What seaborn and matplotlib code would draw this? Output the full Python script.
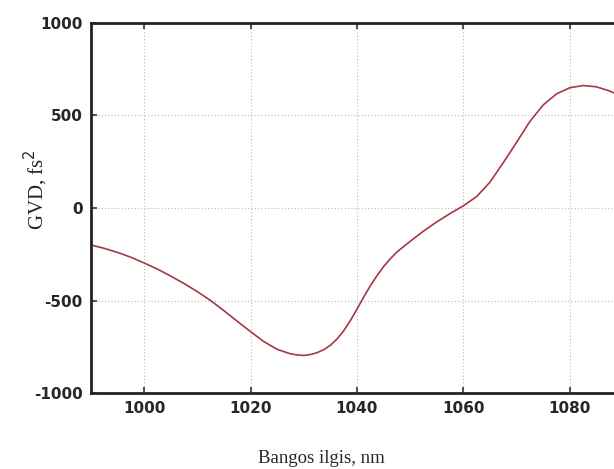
import matplotlib
matplotlib.use("Agg")
import matplotlib.pyplot as plt
import pandas as pd
import seaborn as sns

# Group velocity dispersion versus wavelength (finer sampling around the minimum)
wavelength_nm = [990, 992.5, 995, 997.5, 1000, 1002.5, 1005, 1007.5, 1010, 1012.5,
                 1015, 1017.5, 1020, 1022.5, 1025, 1027.5, 1028.75, 1030, 1031.25,
                 1032.5, 1033.75, 1035, 1036.25, 1037.5, 1038.75, 1040, 1041.25,
                 1042.5, 1043.75, 1045, 1046.25, 1047.5, 1050, 1052.5, 1055, 1057.5,
                 1060, 1062.5, 1065, 1067.5, 1070, 1072.5, 1075, 1077.5, 1080,
                 1082.5, 1085, 1087.5, 1088.3]
gvd_fs2 = [-200, -218, -240, -266, -297, -330, -368, -408, -452, -500,
           -555, -612, -668, -722, -764, -788, -794, -797, -792,
           -782, -766, -742, -708, -664, -609, -547, -482,
           -421, -366, -317, -275, -238, -180, -125, -75, -30,
           12, 62, 140, 245, 355, 468, 557, 617, 650,
           662, 655, 632, 622]

x_ticks = [1000, 1020, 1040, 1060, 1080]
y_ticks = [-1000, -500, 0, 500, 1000]

df = pd.DataFrame({"wavelength": wavelength_nm, "gvd": gvd_fs2})

sns.set_style("white")
plt.rcParams["axes.unicode_minus"] = False

fig = plt.figure(figsize=(6.14, 4.69), dpi=100)
ax = fig.add_axes([0.148, 0.162, 0.852, 0.789])

sns.lineplot(data=df, x="wavelength", y="gvd", ax=ax, color="#a83644",
             linewidth=1.2, sort=False)

ax.set_xlim(990, 1088.3)
ax.set_ylim(-1000, 1000)
ax.set_xticks(x_ticks)
ax.set_yticks(y_ticks)

ax.grid(True, linestyle=(0, (1, 2)), color="#b8b8b8", linewidth=0.8)
ax.set_axisbelow(True)

for side in ("left", "top", "bottom"):
    ax.spines[side].set_visible(True)
    ax.spines[side].set_color("#222222")
    ax.spines[side].set_linewidth(2.0)
ax.spines["right"].set_visible(False)

ax.tick_params(axis="x", direction="in", length=4, width=1.5, color="#555555",
               top=True, bottom=True, pad=6, labelsize=11)
ax.tick_params(axis="y", direction="in", length=4, width=1.5, color="#555555",
               left=True, right=False, pad=6, labelsize=11)
for lbl in ax.get_xticklabels() + ax.get_yticklabels():
    lbl.set_fontweight("bold")
    lbl.set_family("DejaVu Sans")

ax.set_xlabel("Bangos ilgis, nm", family="Liberation Serif", fontsize=13.5)
ax.set_ylabel(r"GVD, fs$^{2}$", family="Liberation Serif", fontsize=15)
ax.xaxis.set_label_coords(0.44, -0.155)
ax.yaxis.set_label_coords(-0.078, 0.551)

fig.savefig("out.png", dpi=100, facecolor="white")
